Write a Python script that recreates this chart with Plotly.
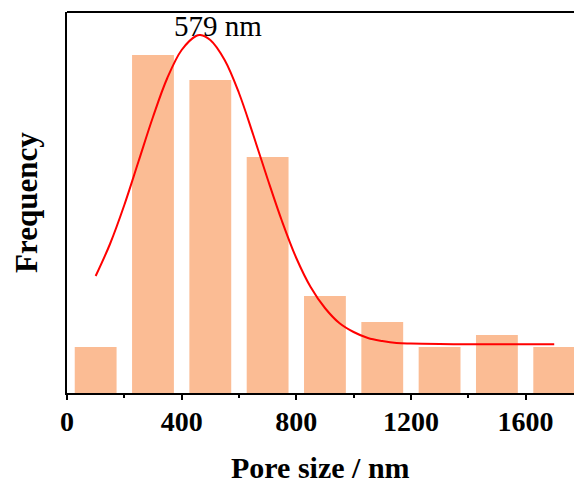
import plotly.graph_objects as go

# Histogram bins (pore size centres, nm) and frequencies (arbitrary units)
bin_centers = [100, 300, 500, 700, 900, 1100, 1300, 1500, 1700]
frequency = [46, 338, 313, 236, 97, 71, 46, 58, 46]

# Fitted curve
fit_x = [100, 150, 200, 250, 300, 350, 400, 450, 465, 500, 550, 600, 650, 700, 750,
         800, 850, 900, 950, 1000, 1050, 1100, 1150, 1200, 1300, 1400, 1500, 1600, 1700]
fit_y = [117, 149, 188, 232, 276, 315, 343, 357, 358, 353, 333, 300, 258, 214, 172,
         135, 106, 85, 70, 61, 55, 52, 50, 49.4, 48.9, 48.7, 48.7, 48.7, 48.7]

peak_label = "579 nm"
x_title = "Pore size / nm"
y_title = "Frequency"
x_ticks = [0, 400, 800, 1200, 1600]

FONT = "Liberation Serif, Times New Roman, serif"

fig = go.Figure()
fig.add_trace(go.Bar(
    x=bin_centers, y=frequency, width=146,
    marker=dict(color="#FBBC94", line=dict(width=0)),
    showlegend=False,
))
fig.add_trace(go.Scatter(
    x=fit_x, y=fit_y, mode="lines", line=dict(color="#FF0000", width=2, shape="spline"),
    showlegend=False,
))

fig.update_layout(
    width=574, height=483,
    margin=dict(l=67, r=0, t=12, b=90),
    paper_bgcolor="white", plot_bgcolor="white",
    font=dict(family=FONT, color="black"),
    xaxis=dict(
        range=[0, 1769], tickvals=x_ticks, ticktext=[str(v) for v in x_ticks],
        showline=True, linecolor="black", linewidth=2,
        ticks="outside", ticklen=5, tickwidth=2, tickcolor="black",
        minor=dict(dtick=200, tick0=0, ticks="outside", ticklen=3, tickwidth=2, tickcolor="black"),
        tickfont=dict(family=FONT, size=28, color="black", weight="bold"),
        ticklabelstandoff=-3,
        showgrid=False, zeroline=False,
    ),
    yaxis=dict(
        range=[0, 381], showline=True, linecolor="black", linewidth=2,
        showticklabels=False, ticks="", showgrid=False, zeroline=False,
    ),
    shapes=[dict(type="line", xref="paper", yref="paper", x0=0, x1=1, y0=1, y1=1,
                 line=dict(color="black", width=2))],
    annotations=[
        dict(text=peak_label, x=528, y=367, xref="x", yref="y", showarrow=False,
             font=dict(family=FONT, size=29, color="black"), xanchor="center", yanchor="middle"),
        dict(text=f"<b>{x_title}</b>", x=0.5, y=-0.195, xref="paper", yref="paper",
             showarrow=False, font=dict(family=FONT, size=30, color="black"),
             xanchor="center", yanchor="middle"),
        dict(text=f"<b>{y_title}</b>", x=-0.08, y=0.5, xref="paper", yref="paper",
             showarrow=False, textangle=-90, font=dict(family=FONT, size=31, color="black"),
             xanchor="center", yanchor="middle"),
    ],
)

fig.write_html("out.html", config={"displayModeBar": False},
               post_script="document.body.style.margin='0';document.body.style.overflow='hidden';")
